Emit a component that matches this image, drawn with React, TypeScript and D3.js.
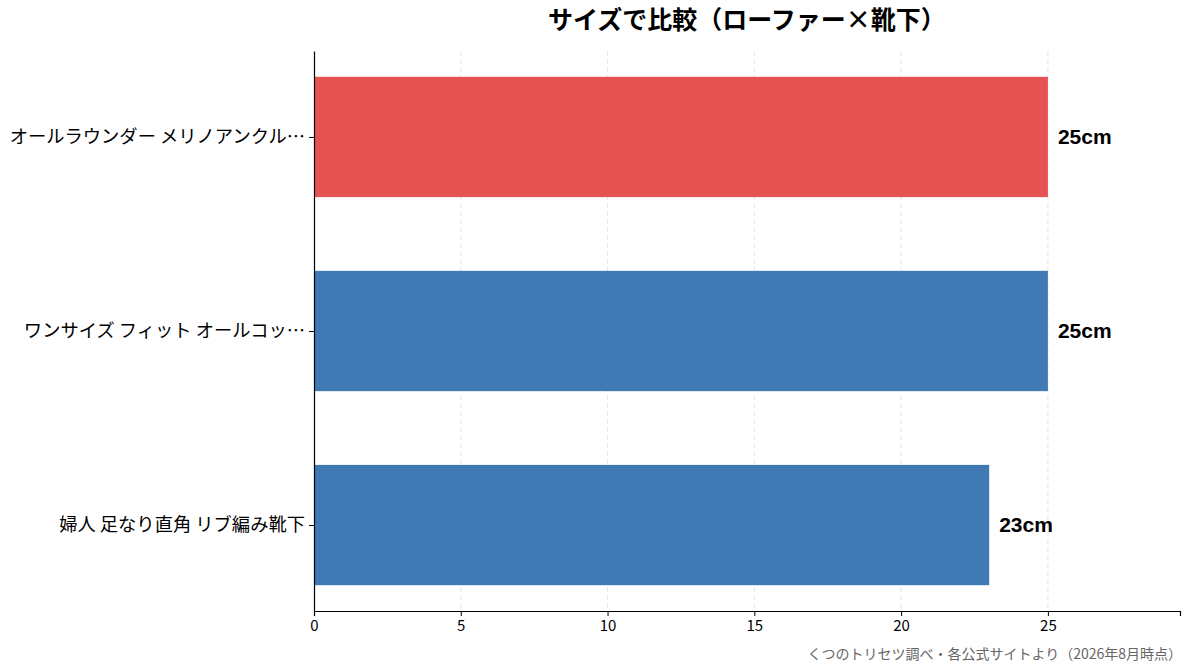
import { useEffect, useRef } from "react";
import * as d3 from "d3";

const categories = [
    "オールラウンダー メリノアンクル…",
    "ワンサイズ フィット オールコッ…",
    "婦人 足なり直角 リブ編み靴下",
];
const sizes = [25, 25, 23];
const barColors = ["#E55353", "#3F7AB5", "#3F7AB5"];
const xTicks = [0, 5, 10, 15, 20, 25];

const FONT = "'Noto Sans CJK JP', 'Noto Sans', sans-serif";
const LATIN = "'Liberation Sans', 'Noto Sans CJK JP', sans-serif";

const App = () => {
    const chartRef = useRef<SVGSVGElement | null>(null);

    useEffect(() => {
        if (!chartRef.current) return;
        const svg = d3.select(chartRef.current);
        svg.selectAll("*").remove();

        const width = 1193;
        const height = 672;
        const margin = { top: 51, right: 13, bottom: 61, left: 314 };

        const x = d3
            .scaleLinear()
            .domain([0, 29.5])
            .range([margin.left, width - margin.right]);

        // categories top to bottom, index 0 at top
        const y = d3
            .scaleLinear()
            .domain([-0.443, categories.length - 1 + 0.443])
            .range([margin.top, height - margin.bottom]);
        const barH = y(0.62) - y(0);

        // grid
        svg.append("g")
            .selectAll("line")
            .data(xTicks.filter((t) => t > 0))
            .enter()
            .append("line")
            .attr("x1", (d) => x(d))
            .attr("x2", (d) => x(d))
            .attr("y1", margin.top)
            .attr("y2", height - margin.bottom)
            .attr("stroke", "#e3e3e3")
            .attr("stroke-dasharray", "5,3")
            .attr("stroke-width", 1);

        // bars
        svg.append("g")
            .selectAll("rect")
            .data(sizes)
            .enter()
            .append("rect")
            .attr("x", x(0))
            .attr("y", (_, i) => y(i) - barH / 2)
            .attr("width", (d) => x(d) - x(0))
            .attr("height", barH)
            .attr("fill", (_, i) => barColors[i]);

        // value labels
        svg.append("g")
            .selectAll("text")
            .data(sizes)
            .enter()
            .append("text")
            .attr("x", (d) => x(d) + 10)
            .attr("y", (_, i) => y(i))
            .attr("dy", "0.35em")
            .attr("font-family", LATIN)
            .attr("font-weight", "bold")
            .attr("font-size", 21)
            .attr("fill", "#000")
            .text((d) => `${d}cm`);

        // x axis
        const xAxis = svg
            .append("g")
            .attr("transform", `translate(0, ${height - margin.bottom})`)
            .call(d3.axisBottom(x).tickValues(xTicks).tickSize(5).tickPadding(4));
        xAxis.select(".domain").attr("stroke", "#000").attr("stroke-width", 1.2);
        xAxis
            .selectAll("text")
            .attr("font-family", FONT)
            .attr("font-size", 15)
            .attr("fill", "#000");

        // y axis
        const yAxis = svg
            .append("g")
            .attr("transform", `translate(${margin.left}, 0)`)
            .call(
                d3
                    .axisLeft(y)
                    .tickValues(categories.map((_, i) => i))
                    .tickFormat((d) => categories[d as number])
                    .tickSize(5)
                    .tickPadding(4)
                    .tickSizeOuter(0)
            );
        yAxis.select(".domain").attr("stroke", "#000").attr("stroke-width", 1.2);
        yAxis
            .selectAll("text")
            .attr("font-family", FONT)
            .attr("font-size", 18.3)
            .attr("fill", "#000");

        // title
        svg.append("text")
            .attr("x", (margin.left + width - margin.right) / 2)
            .attr("y", 29)
            .attr("text-anchor", "middle")
            .attr("font-family", FONT)
            .attr("font-weight", "bold")
            .attr("font-size", 25)
            .attr("fill", "#000")
            .text("サイズで比較（ローファー×靴下）");

        // source
        svg.append("text")
            .attr("x", width - 11)
            .attr("y", 659)
            .attr("text-anchor", "end")
            .attr("font-family", FONT)
            .attr("font-size", 14)
            .attr("fill", "#666")
            .text("くつのトリセツ調べ・各公式サイトより（2026年8月時点）");
    }, []);

    return (
        <svg
            ref={chartRef}
            width={1193}
            height={672}
            style={{ position: "absolute", left: 0, top: 0, background: "#fff" }}
        ></svg>
    );
};

export default App;
